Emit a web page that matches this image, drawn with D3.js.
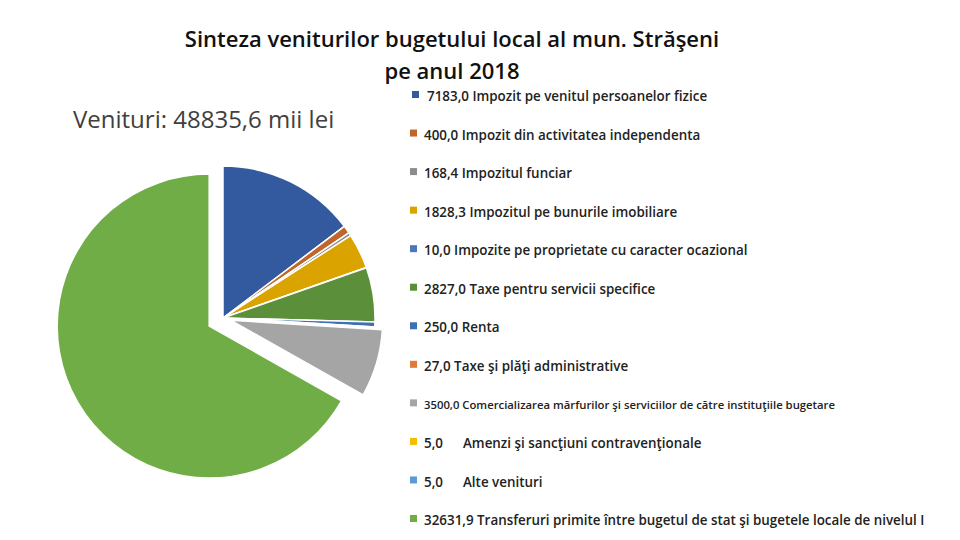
<!DOCTYPE html>
<html><head><meta charset="utf-8">
<script src="https://cdn.jsdelivr.net/npm/d3@7"></script>
<style>body{margin:0;background:#fff}svg{font-family:"Open Sans",sans-serif}</style>
</head><body><svg id="c" width="960" height="540"></svg>
<script>
// values in mii lei
const values = [7183.0, 400.0, 168.4, 1828.3, 10.0, 2827.0, 250.0, 27.0, 3500.0, 5.0, 5.0, 32631.9];
const valueLabels = ["7183,0", "400,0", "168,4", "1828,3 ", "10,0", "2827,0 ", "250,0", "27,0", "3500,0", "5,0", "5,0", "32631,9"];
const names = ["Impozit pe venitul persoanelor fizice", "Impozit din activitatea independenta", "Impozitul funciar",
  "Impozitul pe bunurile imobiliare", "Impozite pe proprietate cu caracter ocazional", "Taxe pentru servicii specifice",
  "Renta", "Taxe şi plăţi administrative", "Comercializarea mărfurilor şi serviciilor de către instituţiile bugetare",
  "Amenzi şi sancţiuni contravenţionale", "Alte venituri", "Transferuri primite între bugetul de stat şi bugetele locale de nivelul I"];
const colors = ["#335a9e", "#c0662b", "#8c8c8c", "#dba300", "#4a78b8", "#5b8f3a", "#3f6fb5", "#e07b39", "#a5a5a5", "#f2bf00", "#5b9bd5", "#70ad47"];
const explode = [0, 0, 0, 0, 0, 0, 0, 0, 8, 0, 0, 16];

const svg = d3.select("#c");
const cx = 223, cy = 318, r = 152;

const pie = d3.pie().sort(null).value(d => d);
const arc = d3.arc().innerRadius(0).outerRadius(r);
const g = svg.append("g").attr("transform", `translate(${cx},${cy})`);
g.selectAll("path").data(pie(values)).enter().append("path")
  .attr("d", arc)
  .attr("fill", (d, i) => colors[i])
  .attr("stroke", "#fff").attr("stroke-width", 1.5)
  .attr("transform", (d, i) => {
    const a = (d.startAngle + d.endAngle) / 2;
    return `translate(${Math.sin(a) * explode[i]},${-Math.cos(a) * explode[i]})`;
  });

// titles
svg.append("text").attr("x", 452).attr("y", 47).attr("text-anchor", "middle")
  .attr("font-size", 22).attr("font-weight", 600).attr("fill", "#111").text("Sinteza veniturilor bugetului local al mun. Străşeni");
svg.append("text").attr("x", 452).attr("y", 79).attr("text-anchor", "middle")
  .attr("font-size", 22).attr("font-weight", 600).attr("fill", "#111").text("pe anul 2018");
svg.append("text").attr("x", 73).attr("y", 128)
  .attr("font-size", 24).attr("fill", "#404040").text("Venituri: 48835,6 mii lei");

// legend
const y = d3.scaleLinear().domain([0, values.length - 1]).range([97, 521]);
const leg = svg.append("g");
values.forEach((v, i) => {
  const row = leg.append("g").attr("transform", `translate(0,${y(i)})`);
  row.append("rect").attr("x", i === 0 ? 412 : 410).attr("y", -6).attr("width", 7).attr("height", 7).attr("fill", colors[i]);
  const t = row.append("text").attr("x", i === 0 ? 427 : 424).attr("y", 0.5).attr("dominant-baseline", "middle")
    .attr("font-size", i === 8 ? 11.3 : 13.4).attr("font-weight", 600).attr("fill", "#222");
  if (i === 9 || i === 10) {
    t.text(valueLabels[i]);
    row.append("text").attr("x", 463).attr("y", 0.5).attr("dominant-baseline", "middle")
      .attr("font-size", 13.4).attr("font-weight", 600).attr("fill", "#222").text(names[i]);
  } else {
    t.text(valueLabels[i] + " " + names[i]);
  }
});
</script></body></html>
